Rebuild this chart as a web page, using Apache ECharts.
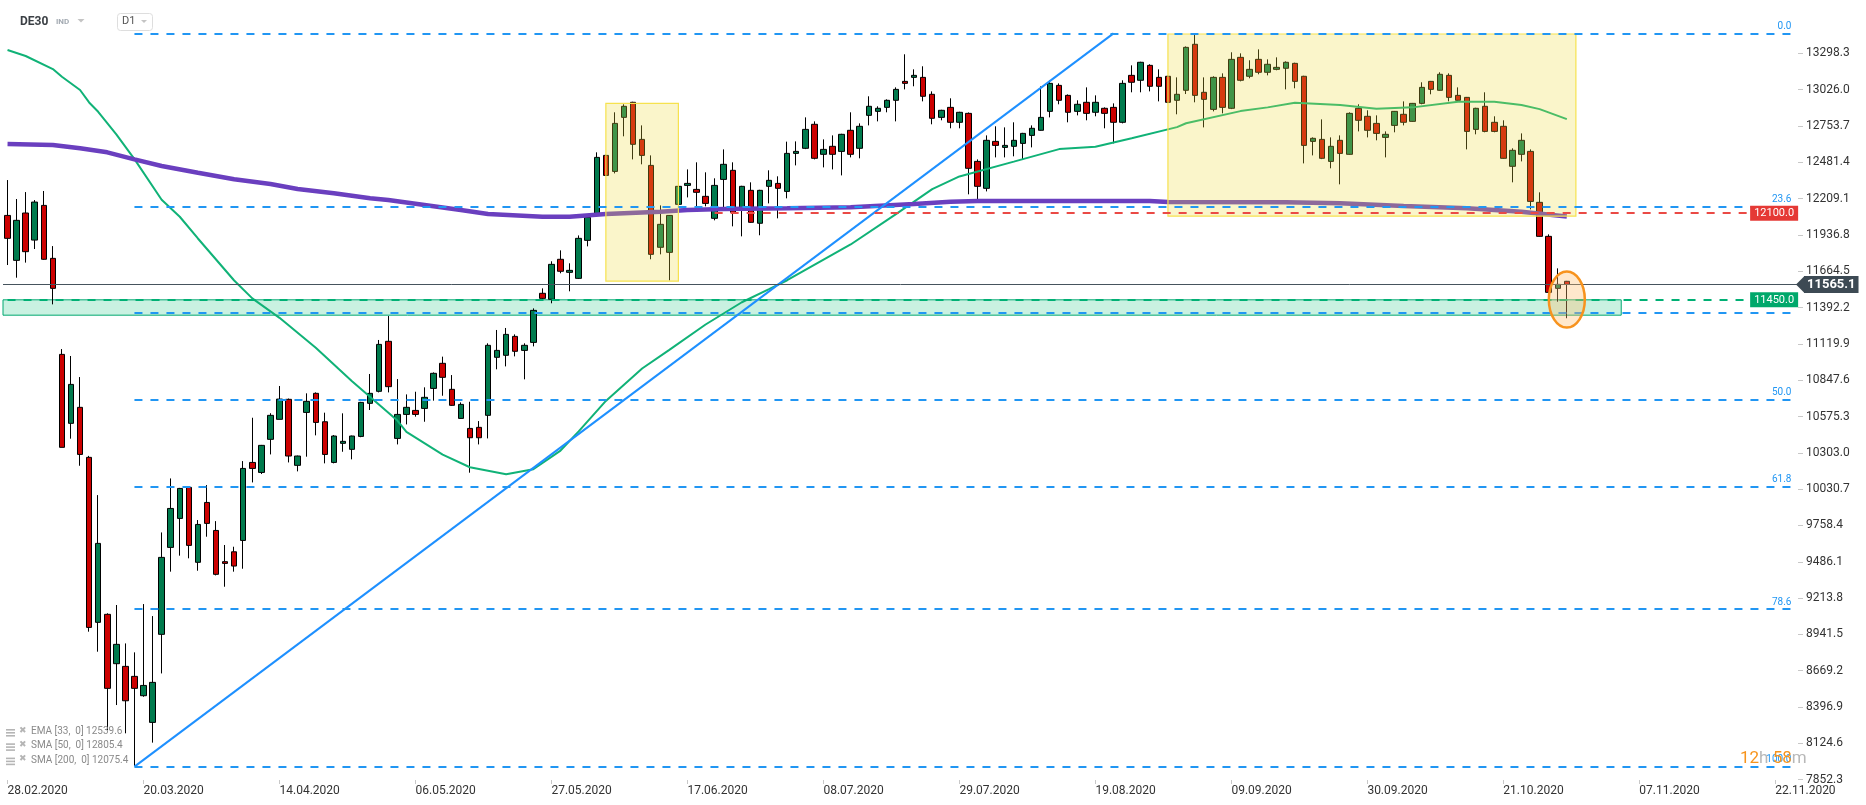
<!DOCTYPE html>
<html><head><meta charset="utf-8">
<script src="https://cdn.jsdelivr.net/npm/echarts@6/dist/echarts.min.js"></script>
<style>html,body{margin:0;padding:0;background:#fff}#c{width:1866px;height:805px}</style>
</head><body><div id="c"></div>
<script>
// ---------------- data ----------------
const xTickLabels = ['28.02.2020','20.03.2020','14.04.2020','06.05.2020','27.05.2020','17.06.2020','08.07.2020','29.07.2020','19.08.2020','09.09.2020','30.09.2020','21.10.2020','07.11.2020','22.11.2020'];
const labelEvery = 15;
const totalSlots = 198;
const yTickLabels = ['13298.3','13026.0','12753.7','12481.4','12209.1','11936.8','11664.5','11392.2','11119.9','10847.6','10575.3','10303.0','10030.7','9758.4','9486.1','9213.8','8941.5','8669.2','8396.9','8124.6','7852.3'];

const opens = [12083,11746,12101,11898,12158,11761,11041,10524,10644,10269,
9032,9092,8722,8702,8627,8482,8282,8942,9594,9811,
10044,9482,9931,9721,9487,9561,9646,10231,10156,10404,
10554,10704,10209,10606,10749,10536,10231,10374,10329,10426,
10674,10764,11139,10411,10591,10621,10636,10786,10974,10779,
10561,10486,10494,10584,11019,11034,11176,11071,11131,11499,
11454,11754,11656,11611,11896,12098,12533,12413,12818,12931,
12653,12458,11844,11806,12166,12308,12278,12226,12061,12353,
12421,12140,12271,12024,12301,12323,12263,12548,12586,12766,
12541,12601,12563,12721,12586,12833,12863,12893,12946,13088,
13118,13118,12991,12818,12893,12781,12848,12488,12286,12638,
12593,12601,12623,12683,12721,12863,13058,12983,12863,12931,
12856,12886,12893,12781,13133,13096,13208,13118,13126,12946,
13021,13366,13006,12878,13118,12886,13268,13126,13253,13156,
13178,13186,13223,13126,12638,12653,12488,12646,12541,12886,
12826,12773,12668,12758,12841,12788,12923,13088,13021,13133,
12983,12968,12728,12901,12781,12751,12451,12541,12563,12181,
11926,11536,11589];
const closes = [11911,12046,11811,12183,11754,11536,10344,10816,10291,8994,
9624,8537,8867,8444,8537,8559,8582,9519,9886,10036,
9609,9766,9774,9392,9474,9454,10186,10186,10359,10584,
10706,10279,10279,10689,10531,10291,10429,10389,10429,10681,
10749,11116,10799,10591,10644,10591,10719,10899,10869,10659,
10666,10416,10416,11109,11071,11191,11064,11109,11371,11461,
11716,11664,11671,11911,12068,12518,12383,12773,12901,12616,
12533,11791,12016,12083,12301,12323,12256,12173,12308,12466,
12106,12301,12031,12271,12346,12286,12548,12563,12728,12511,
12578,12541,12691,12541,12751,12901,12886,12946,13028,13073,
13133,12976,12811,12871,12781,12856,12436,12301,12646,12608,
12608,12646,12698,12736,12818,13073,12946,12856,12916,12848,
12931,12848,12781,13073,13081,13231,13051,13051,12931,12991,
13343,12983,12953,13118,12893,13253,13096,13178,13156,13216,
13193,13231,13088,12608,12661,12511,12601,12548,12848,12796,
12721,12698,12691,12863,12781,12923,13043,13028,13141,12968,
12946,12713,12886,12713,12713,12511,12571,12646,12188,11926,
11506,11566,11565];
const lows = [11711,11616,11729,11831,11750,11416,10344,10409,10206,8962,
8812,8224,8412,8200,7955,8474,8130,8649,9412,9532,
9512,9419,9674,9384,9299,9412,9434,10081,10144,10291,
10554,10231,10164,10274,10434,10224,10224,10311,10254,10420,
10624,10756,10756,10366,10516,10574,10536,10694,10731,10655,
10558,10154,10366,10411,10929,10951,11026,10854,11101,11455,
11424,11649,11514,11606,11851,12095,12380,12398,12676,12503,
12466,11754,11791,11596,12136,12218,12151,12151,12046,12136,
12001,11926,12028,11934,12173,12061,12211,12458,12580,12503,
12443,12428,12383,12518,12511,12758,12788,12856,12788,13028,
13051,12938,12766,12796,12736,12736,12241,12203,12263,12518,
12518,12526,12503,12593,12718,12818,12916,12781,12833,12796,
12826,12736,12623,12773,13006,13006,13013,12938,12925,12841,
12993,12931,12743,12863,12848,12880,13088,13111,13141,13133,
13171,13028,13036,12473,12533,12505,12436,12316,12538,12713,
12668,12646,12518,12706,12758,12785,12916,12991,13018,12938,
12943,12578,12691,12706,12706,12508,12331,12488,12128,11924,
11504,11436,11312];
const highs = [12348,12206,12258,12198,12266,11853,11081,11029,10871,10280,
9986,9100,9162,8874,8807,9169,9079,9706,10111,10040,
10049,9799,10061,9791,9612,9599,10241,10566,10362,10600,
10804,10710,10282,10749,10756,10604,10436,10599,10432,10685,
10894,11149,11329,10856,10741,10761,10794,10906,11024,10886,
10681,10686,10541,11124,11224,11239,11191,11124,11386,11536,
11739,11821,11724,11933,12091,12556,12538,12856,12916,12935,
12758,12533,12158,12086,12428,12428,12481,12406,12361,12578,
12481,12305,12331,12275,12421,12376,12636,12638,12818,12788,
12653,12683,12695,12856,12773,12976,12901,12953,13043,13291,
13178,13201,13013,12875,12961,12860,12855,12503,12683,12751,
12743,12781,12702,12758,13050,13096,13073,12990,12946,13043,
12983,12893,12923,13096,13208,13235,13216,13178,13130,13118,
13350,13441,13118,13126,13148,13306,13298,13246,13328,13253,
13268,13238,13228,13130,12668,12803,12668,12683,12856,12916,
12871,12833,12713,12866,12938,12926,13081,13091,13156,13148,
13043,12971,12890,13006,12826,12796,12586,12698,12578,12256,
11941,11686,11592];

// moving averages: [bar index, value]
const sma50 = [[0,13323],[2,13278],[5,13180],[6,13123],[8,13023],[9,12930],[10,12860],[12,12690],[14,12505],[17,12200],[19,12073],[21,11910],[25,11595],[27,11461],[30,11315],[34,11090],[38,10840],[43,10545],[44,10460],[48,10290],[51,10195],[55,10142],[58,10180],[61,10320],[63,10464],[66,10692],[70,10935],[73,11075],[77,11265],[81,11432],[84,11530],[86,11597],[93,11865],[98,12093],[102,12280],[105,12375],[111,12486],[116,12580],[120,12598],[124,12662],[129,12745],[130,12774],[136,12865],[139,12893],[142,12928],[147,12910],[151,12883],[155,12893],[160,12935],[164,12935],[167,12911],[169,12880],[172,12805]];
const sma200 = [[0,12618],[5,12611],[8,12586],[11,12556],[14,12503],[17,12453],[21,12403],[25,12354],[29,12318],[32,12281],[36,12249],[40,12211],[42,12198],[46,12161],[50,12123],[53,12093],[59,12073],[62,12073],[66,12093],[72,12111],[75,12123],[79,12131],[86,12136],[93,12144],[100,12168],[104,12186],[107,12191],[126,12191],[128,12183],[141,12181],[147,12174],[154,12153],[161,12136],[167,12111],[172,12075]];
const trendLine = [[14,7950],[122,13448]];

const fibLabels = ['0.0','23.6','38.2','50.0','61.8','78.6','100.0'];
const fibPrices = [13448,12150,11352,10700,10052,9132,7950];
const fibStart = 14, lineEnd = 197;
const resistance = 12100.0, resistanceStart = 78;
const support = 11450.0, supportLow = 11335, zoneEnd = 178;
const lastPrice = 11565.1;
const boxes = [[66,12923,74,11591],[128,13443,173,12078]];
const highlight = [172, 11452];
const legendItems = ['EMA [33,  0] 12539.6','SMA [50,  0] 12805.4','SMA [200,  0] 12075.4'];

// ---------------- chart ----------------
const cats = Array.from({length: totalSlots}, (_, i) => i);
const candleData = opens.map((o, i) => [o, closes[i], lows[i], highs[i]]);
const yVals = yTickLabels.map(Number);
const showTick = (i) => i % labelEvery === 0 && i / labelEvery < xTickLabels.length;
const FONT = 'Roboto, "Noto Sans", sans-serif';

const fibLines = fibLabels.map((lbl, k) => [
  {coord: [fibStart, fibPrices[k]],
   lineStyle: {color: '#2196f3', width: 2, type: [8, 8]},
   label: {show: lbl !== '38.2', position: 'insideEndTop', formatter: lbl, color: '#2196f3', fontSize: 10, fontFamily: FONT, distance: 2}},
  {coord: [lineEnd, fibPrices[k]]}
]);

const option = {
  animation: false,
  backgroundColor: '#fff',
  grid: {left: 3, right: 68, top: 0, bottom: 25},
  xAxis: {
    type: 'category', data: cats, boundaryGap: true,
    axisLine: {show: false}, splitLine: {show: false},
    axisTick: {show: true, alignWithLabel: true, interval: showTick, length: 4, lineStyle: {color: '#c8c8c8'}},
    axisLabel: {interval: showTick, formatter: (v, i) => xTickLabels[i / labelEvery], align: 'left',
      color: '#333', fontSize: 12, margin: 5, fontFamily: FONT}
  },
  yAxis: {
    type: 'value', position: 'right', min: 7850, max: 13698,
    axisLine: {show: false}, splitLine: {show: false},
    axisTick: {show: true, customValues: yVals, length: 5, lineStyle: {color: '#c8c8c8'}},
    axisLabel: {customValues: yVals, formatter: v => v.toFixed(1), color: '#333', fontSize: 12, margin: 8, fontFamily: FONT}
  },
  series: [
    {type: 'line', data: [], silent: true,
     markArea: {silent: true, z: 1, itemStyle: {color: '#c9f1e1', borderColor: '#00a870', borderWidth: 1},
       data: [[{yAxis: support}, {xAxis: zoneEnd, yAxis: supportLow}]]}},
    {type: 'candlestick', data: candleData, z: 2, barWidth: 6, silent: true,
     itemStyle: {color: '#007a4d', color0: '#cc0000', borderColor: '#000', borderColor0: '#000', borderWidth: 1}},
    {type: 'line', data: sma50, z: 3, symbol: 'none', silent: true, lineStyle: {color: '#10b277', width: 2}},
    {type: 'line', data: sma200, z: 3, symbol: 'none', silent: true, lineStyle: {color: '#6a3fbf', width: 4.5}},
    {type: 'line', data: trendLine, z: 3, symbol: 'none', silent: true, lineStyle: {color: '#1e90ff', width: 2}},
    {type: 'line', data: [], silent: true,
     markArea: {silent: true, z: 4, itemStyle: {color: 'rgba(238,218,60,0.27)', borderColor: '#f6e24e', borderWidth: 1.2},
       data: boxes.map(b => [{xAxis: b[0], yAxis: b[1]}, {xAxis: b[2], yAxis: b[3]}])}},
    {type: 'line', data: [], silent: true,
     markLine: {silent: true, z: 5, symbol: ['none', 'none'], animation: false,
       data: fibLines.concat([
         [{coord: [0, support], lineStyle: {color: '#00b074', width: 2, type: [8, 8]},
           label: {show: true, position: 'end', formatter: support.toFixed(1), color: '#fff', backgroundColor: '#00a86b',
             fontSize: 11, fontFamily: FONT, padding: [2, 4, 2, 4], distance: 2}},
          {coord: [192, support]}],
         [{coord: [resistanceStart, resistance], lineStyle: {color: '#ea4a45', width: 2, type: [8, 8]},
           label: {show: true, position: 'end', formatter: resistance.toFixed(1), color: '#fff', backgroundColor: '#e53935',
             fontSize: 11, fontFamily: FONT, padding: [2, 4, 2, 4], distance: 2}},
          {coord: [192, resistance]}],
         {yAxis: lastPrice, lineStyle: {color: '#46535d', width: 1, type: 'solid'},
          label: {show: true, position: 'end', formatter: lastPrice.toFixed(1), color: '#fff', backgroundColor: '#3d4a54',
            fontSize: 13, fontWeight: 'bold', fontFamily: FONT, padding: [2, 3, 2, 3], distance: 6}}
       ])}}
  ]
};

const chart = echarts.init(document.getElementById('c'));
chart.setOption(option);

const hp = chart.convertToPixel({gridIndex: 0}, highlight);
const pp = chart.convertToPixel({gridIndex: 0}, [lineEnd, lastPrice]);
const gfx = [
  {type: 'ellipse', z: 20, shape: {cx: hp[0], cy: hp[1], rx: 18, ry: 28},
   style: {fill: 'rgba(255,190,110,0.35)', stroke: '#f7931e', lineWidth: 2.5}},
  {type: 'polygon', z: 20, shape: {points: [[1796, pp[1]], [1804.5, pp[1] - 8.5], [1804.5, pp[1] + 8.5]]}, style: {fill: '#3d4a54'}},
  // header
  {type: 'text', left: 20, top: 16, z: 30, style: {text: 'DE30', fill: '#3a3f44', font: 'bold 12px ' + FONT}},
  {type: 'text', left: 56, top: 18, z: 30, style: {text: 'IND', fill: '#a3aab2', font: 'bold 8px ' + FONT}},
  {type: 'polygon', z: 30, shape: {points: [[77.5, 19], [84.5, 19], [81, 22.5]]}, style: {fill: '#c4c4c4'}},
  {type: 'rect', z: 30, shape: {x: 117.5, y: 13.5, width: 35, height: 17, r: 3}, style: {fill: '#fff', stroke: '#dedede', lineWidth: 1}},
  {type: 'text', left: 122, top: 16, z: 31, style: {text: 'D1', fill: '#555', font: '11px ' + FONT}},
  {type: 'polygon', z: 31, shape: {points: [[141, 20], [147, 20], [144, 23]]}, style: {fill: '#c4c4c4'}},
  // countdown
  {type: 'text', left: 1740, top: 750, z: 25, style: {
     text: '{a|12}{b|h }{a|58}{b|m}',
     rich: {a: {fill: '#f7941d', fontSize: 17, fontFamily: FONT}, b: {fill: '#b8b8b8', fontSize: 17, fontFamily: FONT}}}}
];
legendItems.forEach((t, k) => {
  const cy = 733 + k * 14.3;
  [0, 1, 2].forEach(j => gfx.push({type: 'rect', z: 30, shape: {x: 6, y: cy - 4 + j * 3, width: 9, height: 1.6}, style: {fill: '#b5b5b5'}}));
  gfx.push({type: 'text', left: 19, top: cy - 7, z: 30, style: {text: '✖', fill: '#b5b5b5', font: '9px "DejaVu Sans"'}});
  gfx.push({type: 'text', left: 31, top: cy - 6.5, z: 30, style: {text: t, fill: '#8a8a8a', font: '10px ' + FONT}});
});
chart.setOption({graphic: gfx});
</script>
</body></html>
